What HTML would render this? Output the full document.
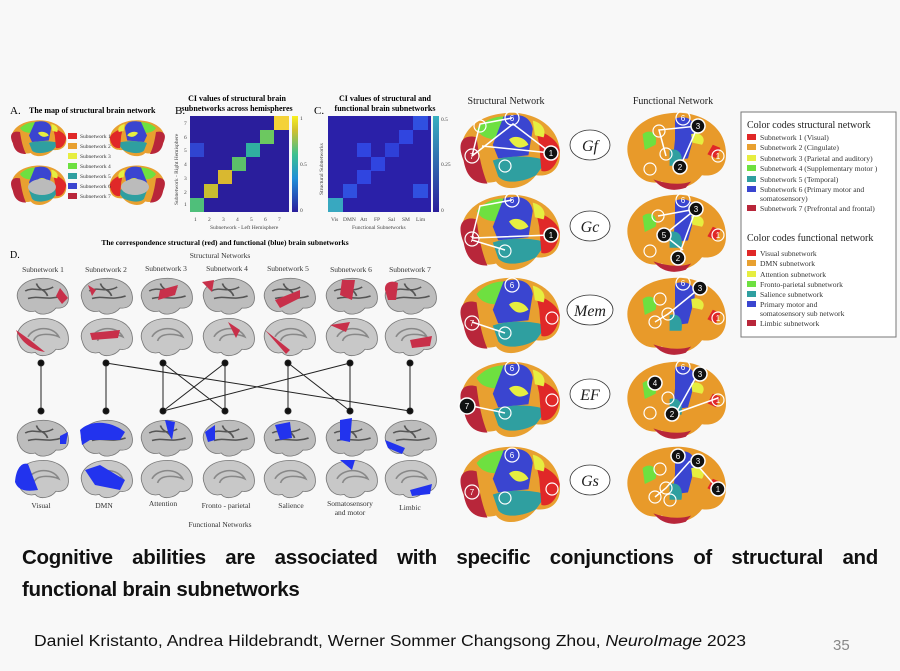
<!DOCTYPE html>
<html><head><meta charset="utf-8"><style>
body{margin:0;width:900px;height:671px;background:#f8f8f8;overflow:hidden;position:relative;font-family:"Liberation Serif",serif}
svg{position:absolute;left:0;top:0}
.t{position:absolute;left:22px;width:856px;font-family:"Liberation Sans",sans-serif;font-weight:bold;font-size:20.5px;color:#111;letter-spacing:-0.3px}
</style></head><body>
<svg width="900" height="671" viewBox="0 0 900 671">
<defs>
<path id="bl" d="M8,50 C0,30 15,8 45,5 C70,2 95,15 97,40 C99,58 88,66 75,64 C65,78 45,80 38,70 C25,74 12,66 8,50 Z"/>
<g id="gb"><use href="#bl" fill="#bdbdbd" stroke="#777" stroke-width="1.5"/><path d="M20,30 C35,20 50,35 70,22 M25,45 C45,38 60,50 85,40 M40,15 C45,30 55,25 60,40" stroke="#555" stroke-width="3" fill="none"/></g>
<g id="gm"><use href="#bl" fill="#c8c8c8" stroke="#777" stroke-width="1.5"/><path d="M25,40 C35,20 70,18 80,40 C70,35 40,30 35,48" stroke="#888" stroke-width="3" fill="none"/></g>
<g id="sb"><use href="#bl" fill="#e8a030"/>
<path d="M8,50 C0,30 10,25 20,28 C22,45 25,60 30,72 C15,72 10,62 8,50Z" fill="#b8263a"/>
<path d="M20,20 C30,8 45,6 55,10 L45,30 C35,30 25,30 20,20Z" fill="#6ee040"/>
<path d="M45,8 C60,4 70,8 72,20 L68,45 L40,48 L35,35 Z" fill="#3a45d0"/>
<path d="M35,50 C50,45 70,45 85,50 L75,64 C60,72 45,72 40,65Z" fill="#2f9fa0"/>
<path d="M75,20 C85,25 95,30 97,40 C95,55 88,62 80,60 L78,35Z" fill="#e02828"/>
<path d="M50,30 C55,25 65,28 68,35 C60,40 55,38 50,30Z" fill="#e6ee40"/>
<path d="M72,12 C80,14 85,20 82,28 L74,26Z" fill="#e6ee40"/>
</g>
<g id="fb"><use href="#bl" fill="#e89a2a"/>
<path d="M50,10 C62,6 70,12 68,25 L62,48 L48,50 L50,30 Z" fill="#3a45d0"/>
<path d="M45,40 C52,38 58,42 56,55 L45,55Z" fill="#2f9fa0"/>
<path d="M20,25 C25,20 35,22 32,35 L22,40Z" fill="#6ee040"/>
<path d="M30,68 C40,72 55,74 65,70 L60,76 C48,80 38,78 30,68Z" fill="#b8263a"/>
<path d="M85,35 L92,38 L88,48 L80,44Z" fill="#e02828"/>
<path d="M65,25 C72,22 80,28 75,35 L66,33Z" fill="#e6ee40"/>
</g>
</defs>

<!-- Panel A -->
<text x="10" y="114" font-size="11">A.</text>
<text x="29" y="113" font-size="8" font-weight="bold">The map of structural brain network</text>
<use href="#sb" transform="translate(8,118) scale(0.6,0.5)"/>
<use href="#sb" transform="translate(168,118) scale(-0.6,0.5)"/>
<use href="#sb" transform="translate(8,163) scale(0.6,0.55)"/>
<use href="#sb" transform="translate(168,163) scale(-0.6,0.55)"/>
<ellipse cx="42" cy="187" rx="14" ry="8" fill="#bbb"/><ellipse cx="135" cy="187" rx="14" ry="8" fill="#bbb"/>
<g font-size="5.5" fill="#333">
<rect x="68" y="133" width="9" height="6" fill="#e02828"/><text x="80" y="138">Subnetwork 1</text>
<rect x="68" y="143" width="9" height="6" fill="#e8a030"/><text x="80" y="148">Subnetwork 2</text>
<rect x="68" y="153" width="9" height="6" fill="#e6ee40"/><text x="80" y="158">Subnetwork 3</text>
<rect x="68" y="163" width="9" height="6" fill="#6ee040"/><text x="80" y="168">Subnetwork 4</text>
<rect x="68" y="173" width="9" height="6" fill="#2f9fa0"/><text x="80" y="178">Subnetwork 5</text>
<rect x="68" y="183" width="9" height="6" fill="#3a45d0"/><text x="80" y="188">Subnetwork 6</text>
<rect x="68" y="193" width="9" height="6" fill="#b8263a"/><text x="80" y="198">Subnetwork 7</text>
</g>

<!-- Panel B -->
<text x="175" y="114" font-size="11">B.</text>
<text x="237" y="101" font-size="8" font-weight="bold" text-anchor="middle">CI values of structural brain</text>
<text x="237" y="111" font-size="8" font-weight="bold" text-anchor="middle">subnetworks across hemispheres</text>
<rect x="190" y="116" width="99" height="96" fill="#2a1e9c"/>
<rect x="190" y="198" width="14" height="14" fill="#4fbf7a"/>
<rect x="204" y="184" width="14" height="14" fill="#c8bd30"/>
<rect x="218" y="170" width="14" height="14" fill="#d9b830"/>
<rect x="232" y="157" width="14" height="14" fill="#5cc06a"/>
<rect x="246" y="143" width="14" height="14" fill="#30b0a0"/>
<rect x="260" y="130" width="14" height="14" fill="#6cc860"/>
<rect x="274" y="116" width="15" height="14" fill="#f4d238"/>
<rect x="190" y="143" width="14" height="14" fill="#3045d0"/>
<defs><linearGradient id="pv" x1="0" y1="1" x2="0" y2="0"><stop offset="0" stop-color="#2a1e9c"/><stop offset="0.35" stop-color="#1f8fd8"/><stop offset="0.6" stop-color="#3cc090"/><stop offset="0.85" stop-color="#d0c030"/><stop offset="1" stop-color="#f8f020"/></linearGradient></defs>
<rect x="292" y="116" width="6" height="96" fill="url(#pv)"/>
<g font-size="5.5" fill="#444"><text x="300" y="120">1</text><text x="300" y="166">0.5</text><text x="300" y="212">0</text>
<text x="194" y="221">1</text><text x="208" y="221">2</text><text x="222" y="221">3</text><text x="236" y="221">4</text><text x="250" y="221">5</text><text x="264" y="221">6</text><text x="278" y="221">7</text>
<text x="210" y="229">Subnetwork - Left Hemisphere</text>
<text transform="translate(178,205) rotate(-90)">Subnetwork - Right Hemisphere</text>
<text x="184" y="206">1</text><text x="184" y="194">2</text><text x="184" y="180">3</text><text x="184" y="166">4</text><text x="184" y="152">5</text><text x="184" y="139">6</text><text x="184" y="125">7</text></g>

<!-- Panel C -->
<text x="314" y="114" font-size="11">C.</text>
<text x="385" y="101" font-size="8" font-weight="bold" text-anchor="middle">CI values of structural and</text>
<text x="385" y="111" font-size="8" font-weight="bold" text-anchor="middle">functional brain subnetworks</text>
<rect x="328" y="116" width="103" height="96" fill="#2a20a8"/>
<rect x="328" y="198" width="15" height="14" fill="#38a8c0"/>
<rect x="343" y="184" width="14" height="14" fill="#3050e0"/>
<rect x="357" y="170" width="14" height="14" fill="#3045e0"/>
<rect x="357" y="143" width="14" height="14" fill="#3045e0"/>
<rect x="371" y="157" width="14" height="14" fill="#3045e0"/>
<rect x="385" y="143" width="14" height="14" fill="#2f40d8"/>
<rect x="399" y="130" width="14" height="14" fill="#3045e0"/>
<rect x="413" y="116" width="15" height="14" fill="#3050e0"/>
<rect x="413" y="184" width="15" height="14" fill="#3050e0"/>
<defs><linearGradient id="pc" x1="0" y1="1" x2="0" y2="0"><stop offset="0" stop-color="#2a1e9c"/><stop offset="1" stop-color="#38b0c0"/></linearGradient></defs>
<rect x="433" y="116" width="6" height="96" fill="url(#pc)"/>
<g font-size="5.5" fill="#444"><text x="441" y="121">0.5</text><text x="441" y="166">0.25</text><text x="441" y="212">0</text>
<text x="331" y="221">Vis</text><text x="343" y="221">DMN</text><text x="360" y="221">Att</text><text x="374" y="221">FP</text><text x="388" y="221">Sal</text><text x="402" y="221">SM</text><text x="416" y="221">Lim</text>
<text x="352" y="229">Functional Subnetworks</text>
<text transform="translate(323,195) rotate(-90)">Structural Subnetworks</text></g>

<!-- Panel D -->
<text x="225" y="245" font-size="7.5" font-weight="bold" text-anchor="middle">The correspondence structural (red) and functional (blue) brain subnetworks</text>
<text x="10" y="258" font-size="10">D.</text>
<text x="220" y="258" font-size="7.5" text-anchor="middle" fill="#333">Structural Networks</text>
<g font-size="7.5" fill="#333" text-anchor="middle">
<text x="43" y="272">Subnetwork 1</text><text x="106" y="272">Subnetwork 2</text><text x="166" y="271">Subnetwork 3</text><text x="227" y="271">Subnetwork 4</text><text x="288" y="271">Subnetwork 5</text><text x="351" y="272">Subnetwork 6</text><text x="410" y="272">Subnetwork 7</text>
<text x="41" y="508">Visual</text><text x="104" y="508">DMN</text><text x="163" y="506">Attention</text><text x="226" y="508">Fronto - parietal</text><text x="291" y="508">Salience</text><text x="350" y="506">Somatosensory</text><text x="350" y="515">and motor</text><text x="410" y="510">Limbic</text>
<text x="220" y="527">Functional Networks</text></g>
<g id="cols">
<use href="#gb" transform="translate(14,276) scale(0.56,0.5)"/><use href="#gm" transform="translate(14,316) scale(0.56,0.52)"/>
<use href="#gb" transform="translate(78,276) scale(0.56,0.5)"/><use href="#gm" transform="translate(78,316) scale(0.56,0.52)"/>
<use href="#gb" transform="translate(138,276) scale(0.56,0.5)"/><use href="#gm" transform="translate(138,316) scale(0.56,0.52)"/>
<use href="#gb" transform="translate(200,276) scale(0.56,0.5)"/><use href="#gm" transform="translate(200,316) scale(0.56,0.52)"/>
<use href="#gb" transform="translate(261,276) scale(0.56,0.5)"/><use href="#gm" transform="translate(261,316) scale(0.56,0.52)"/>
<use href="#gb" transform="translate(323,276) scale(0.56,0.5)"/><use href="#gm" transform="translate(323,316) scale(0.56,0.52)"/>
<use href="#gb" transform="translate(382,276) scale(0.56,0.5)"/><use href="#gm" transform="translate(382,316) scale(0.56,0.52)"/>
</g>
<use href="#gb" transform="translate(14,418) scale(0.56,0.5)"/><use href="#gm" transform="translate(14,458) scale(0.56,0.52)"/>
<use href="#gb" transform="translate(78,418) scale(0.56,0.5)"/><use href="#gm" transform="translate(78,458) scale(0.56,0.52)"/>
<use href="#gb" transform="translate(138,418) scale(0.56,0.5)"/><use href="#gm" transform="translate(138,458) scale(0.56,0.52)"/>
<use href="#gb" transform="translate(200,418) scale(0.56,0.5)"/><use href="#gm" transform="translate(200,458) scale(0.56,0.52)"/>
<use href="#gb" transform="translate(261,418) scale(0.56,0.5)"/><use href="#gm" transform="translate(261,458) scale(0.56,0.52)"/>
<use href="#gb" transform="translate(323,418) scale(0.56,0.5)"/><use href="#gm" transform="translate(323,458) scale(0.56,0.52)"/>
<use href="#gb" transform="translate(382,418) scale(0.56,0.5)"/><use href="#gm" transform="translate(382,458) scale(0.56,0.52)"/>
<!-- red highlights -->
<g fill="#c8304a">
<path d="M60,288 L68,298 L62,304 L56,296Z"/><path d="M16,330 C20,340 30,350 45,352 L30,340Z"/>
<path d="M88,285 L96,290 L92,296Z"/><path d="M90,333 L120,330 L118,338 L92,340Z"/>
<path d="M160,290 L178,285 L175,295 L158,300Z"/>
<path d="M202,282 L214,280 L212,292Z"/><path d="M228,322 L240,330 L236,338Z"/>
<path d="M275,300 L300,290 L300,298 L280,308Z"/><path d="M265,330 L290,350 L286,354Z"/>
<path d="M342,280 L355,280 L352,300 L340,295Z"/><path d="M330,325 L350,322 L346,332Z"/>
<path d="M385,290 C384,282 392,280 398,283 L396,300 L388,300Z"/><path d="M410,340 L432,336 L430,346 L412,348Z"/>
</g>
<g fill="#2233ee">
<path d="M60,436 L68,432 L66,444 L60,444Z"/><path d="M15,482 C16,468 22,462 28,464 L38,490 C25,492 18,490 15,482Z"/>
<path d="M80,430 C90,420 110,420 125,432 L120,440 L90,440 L82,445Z"/><path d="M85,470 L100,465 L125,480 L120,490 L95,485Z"/>
<path d="M165,420 L175,422 L172,440 L168,432Z"/>
<path d="M205,432 L215,425 L215,440 L208,442Z"/>
<path d="M275,425 L290,422 L292,438 L280,440Z"/>
<path d="M340,420 L352,418 L350,442 L340,440Z"/><path d="M340,460 L355,460 L352,470Z"/>
<path d="M385,440 L405,448 L402,454 L388,448Z"/><path d="M410,490 L432,484 L430,494 L412,496Z"/>
</g>
<!-- connectors -->
<g stroke="#222" stroke-width="1" fill="#111">
<line x1="41" y1="363" x2="41" y2="411"/><line x1="106" y1="363" x2="106" y2="411"/><line x1="106" y1="363" x2="410" y2="411"/>
<line x1="163" y1="363" x2="163" y2="411"/><line x1="163" y1="363" x2="225" y2="411"/><line x1="225" y1="363" x2="163" y2="411"/>
<line x1="225" y1="363" x2="225" y2="411"/><line x1="288" y1="363" x2="288" y2="411"/><line x1="288" y1="363" x2="350" y2="411"/>
<line x1="350" y1="363" x2="163" y2="411"/><line x1="350" y1="363" x2="350" y2="411"/><line x1="410" y1="363" x2="410" y2="411"/>
<circle cx="41" cy="363" r="3"/><circle cx="106" cy="363" r="3"/><circle cx="163" cy="363" r="3"/><circle cx="225" cy="363" r="3"/><circle cx="288" cy="363" r="3"/><circle cx="350" cy="363" r="3"/><circle cx="410" cy="363" r="3"/>
<circle cx="41" cy="411" r="3"/><circle cx="106" cy="411" r="3"/><circle cx="163" cy="411" r="3"/><circle cx="225" cy="411" r="3"/><circle cx="288" cy="411" r="3"/><circle cx="350" cy="411" r="3"/><circle cx="410" cy="411" r="3"/>
</g>

<!-- Right panel -->
<text x="506" y="104" font-size="10" text-anchor="middle" fill="#222">Structural Network</text>
<text x="673" y="104" font-size="10" text-anchor="middle" fill="#222">Functional Network</text>
<g>
<use href="#sb" transform="translate(455,108) scale(1.08,1.05)"/><use href="#fb" transform="translate(621,108) scale(1.08,1.05)"/>
<use href="#sb" transform="translate(455,190) scale(1.08,1.05)"/><use href="#fb" transform="translate(621,190) scale(1.08,1.05)"/>
<use href="#sb" transform="translate(455,273) scale(1.08,1.05)"/><use href="#fb" transform="translate(621,273) scale(1.08,1.05)"/>
<use href="#sb" transform="translate(455,357) scale(1.08,1.05)"/><use href="#fb" transform="translate(621,357) scale(1.08,1.05)"/>
<use href="#sb" transform="translate(455,442) scale(1.08,1.05)"/><use href="#fb" transform="translate(621,442) scale(1.08,1.05)"/>
</g>
<g fill="#fff" stroke="#333" stroke-width="0.8" font-size="17" font-style="italic" text-anchor="middle">
<ellipse cx="590" cy="145" rx="20" ry="15"/><ellipse cx="590" cy="226" rx="20" ry="15"/><ellipse cx="590" cy="310" rx="23" ry="15"/><ellipse cx="590" cy="394" rx="20" ry="15"/><ellipse cx="590" cy="480" rx="20" ry="15"/>
</g>
<g font-size="16" font-style="italic" text-anchor="middle" fill="#222">
<text x="590" y="151">Gf</text><text x="590" y="232">Gc</text><text x="590" y="316">Mem</text><text x="590" y="400">EF</text><text x="590" y="486">Gs</text></g>
<!-- node circles structural -->
<g stroke="#fff" stroke-width="1.5" fill="none">
<path d="M472,156 L480,124 L512,118 M482,146 L551,153 M472,156 L513,124 L551,153"/>
<path d="M472,238 L480,206 L512,200 M472,238 L551,235 M472,240 L505,250"/>
<path d="M472,322 L505,333"/><path d="M655,322 L668,314 L700,288"/>
<path d="M472,406 L505,413"/><path d="M676,413 L700,370 M676,413 L718,398"/>
<path d="M696,209 L664,235 M696,209 L658,216 M664,235 L683,250 M696,209 L678,258"/>
<path d="M698,126 L659,130 L666,156 M698,126 L680,167"/>
<path d="M690,461 L666,488 L655,497 M698,466 L718,489"/>
</g>
<g font-size="10" text-anchor="middle" font-family="Liberation Sans,sans-serif">
<g fill="none" stroke="#fff" stroke-width="1.2">
<circle cx="472" cy="156" r="7"/><circle cx="512" cy="118" r="7"/><circle cx="505" cy="166" r="6"/><circle cx="480" cy="126" r="6"/>
<circle cx="472" cy="239" r="7"/><circle cx="512" cy="200" r="7"/><circle cx="505" cy="251" r="6"/>
<circle cx="472" cy="323" r="7"/><circle cx="512" cy="285" r="7"/><circle cx="505" cy="333" r="6"/><circle cx="552" cy="318" r="6"/>
<circle cx="512" cy="368" r="7"/><circle cx="505" cy="413" r="6"/><circle cx="552" cy="400" r="6"/>
<circle cx="472" cy="492" r="7"/><circle cx="512" cy="455" r="7"/><circle cx="505" cy="498" r="6"/><circle cx="552" cy="489" r="6"/>
<circle cx="650" cy="169" r="6"/><circle cx="683" cy="118" r="7"/><circle cx="718" cy="156" r="6"/><circle cx="666" cy="154" r="6"/><circle cx="659" cy="131" r="6"/>
<circle cx="683" cy="200" r="7"/><circle cx="658" cy="216" r="6"/><circle cx="718" cy="235" r="6"/><circle cx="650" cy="251" r="6"/>
<circle cx="683" cy="283" r="7"/><circle cx="655" cy="322" r="6"/><circle cx="718" cy="318" r="6"/><circle cx="660" cy="299" r="6"/><circle cx="668" cy="314" r="6"/>
<circle cx="683" cy="367" r="7"/><circle cx="718" cy="400" r="6"/><circle cx="650" cy="413" r="6"/><circle cx="668" cy="398" r="6"/>
<circle cx="655" cy="497" r="6"/><circle cx="670" cy="500" r="6"/><circle cx="660" cy="469" r="6"/><circle cx="666" cy="488" r="6"/>
</g>
<g fill="#111" stroke="#fff" stroke-width="1.5">
<circle cx="551" cy="153" r="7"/><circle cx="551" cy="235" r="7"/><circle cx="467" cy="406" r="8"/>
<circle cx="698" cy="126" r="7"/><circle cx="680" cy="167" r="7"/>
<circle cx="696" cy="209" r="7"/><circle cx="664" cy="235" r="7"/><circle cx="678" cy="258" r="7"/>
<circle cx="700" cy="288" r="7"/>
<circle cx="700" cy="374" r="7"/><circle cx="655" cy="383" r="7"/><circle cx="672" cy="414" r="7"/>
<circle cx="678" cy="456" r="7"/><circle cx="698" cy="461" r="7"/><circle cx="718" cy="489" r="7"/>
</g>
<g fill="#fff" font-size="8">
<text x="551" y="156">1</text><text x="551" y="238">1</text><text x="467" y="409">7</text>
<text x="698" y="129">3</text><text x="680" y="170">2</text><text x="696" y="212">3</text><text x="664" y="238">5</text><text x="678" y="261">2</text><text x="700" y="291">3</text>
<text x="700" y="377">3</text><text x="655" y="386">4</text><text x="672" y="417">2</text><text x="678" y="459">6</text><text x="698" y="464">3</text><text x="718" y="492">1</text>
<text x="472" y="159">7</text><text x="512" y="121">6</text><text x="472" y="242">7</text><text x="512" y="203">6</text><text x="472" y="326">7</text><text x="512" y="288">6</text><text x="512" y="371">6</text><text x="472" y="495">7</text><text x="512" y="458">6</text>
<text x="683" y="121">6</text><text x="683" y="203">6</text><text x="683" y="286">6</text><text x="683" y="370">6</text><text x="718" y="159">1</text><text x="718" y="238">1</text><text x="718" y="321">1</text><text x="718" y="403">1</text>
</g></g>

<!-- legend -->
<rect x="741" y="112" width="155" height="225" fill="#fff" stroke="#777" stroke-width="1"/>
<text x="747" y="128" font-size="10" fill="#222">Color codes structural network</text>
<g font-size="7.6" fill="#333">
<rect x="747" y="134" width="9" height="6" fill="#e02828"/><text x="760" y="140">Subnetwork 1 (Visual)</text>
<rect x="747" y="144" width="9" height="6" fill="#e8a030"/><text x="760" y="150">Subnetwork 2 (Cingulate)</text>
<rect x="747" y="155" width="9" height="6" fill="#e6ee40"/><text x="760" y="161">Subnetwork 3 (Parietal and auditory)</text>
<rect x="747" y="165" width="9" height="6" fill="#6ee040"/><text x="760" y="171">Subnetwork 4 (Supplementary motor )</text>
<rect x="747" y="176" width="9" height="6" fill="#2f9fa0"/><text x="760" y="182">Subnetwork 5 (Temporal)</text>
<rect x="747" y="186" width="9" height="6" fill="#3a45d0"/><text x="760" y="192">Subnetwork 6 (Primary motor and</text>
<text x="760" y="201">somatosensory)</text>
<rect x="747" y="205" width="9" height="6" fill="#b8263a"/><text x="760" y="211">Subnetwork 7 (Prefrontal and frontal)</text>
</g>
<text x="747" y="241" font-size="10" fill="#222">Color codes functional network</text>
<g font-size="7.6" fill="#333">
<rect x="747" y="250" width="9" height="6" fill="#e02828"/><text x="760" y="256">Visual subnetwork</text>
<rect x="747" y="260" width="9" height="6" fill="#e8a030"/><text x="760" y="266">DMN subnetwork</text>
<rect x="747" y="271" width="9" height="6" fill="#e6ee40"/><text x="760" y="277">Attention subnetwork</text>
<rect x="747" y="281" width="9" height="6" fill="#6ee040"/><text x="760" y="287">Fronto-parietal subnetwork</text>
<rect x="747" y="291" width="9" height="6" fill="#2f9fa0"/><text x="760" y="297">Salience subnetwork</text>
<rect x="747" y="301" width="9" height="6" fill="#3a45d0"/><text x="760" y="307">Primary motor and</text>
<text x="760" y="316">somatosensory sub network</text>
<rect x="747" y="320" width="9" height="6" fill="#b8263a"/><text x="760" y="326">Limbic subnetwork</text>
</g>

<text x="34" y="646" font-size="15.5" font-family="Liberation Sans,sans-serif" fill="#111" textLength="712" lengthAdjust="spacingAndGlyphs">Daniel Kristanto, Andrea Hildebrandt, Werner Sommer Changsong Zhou, <tspan font-style="italic">NeuroImage</tspan> 2023</text>
<text x="833" y="650" font-size="15" font-family="Liberation Sans,sans-serif" fill="#888">35</text>
</svg>
<div class="t" style="top:546px;text-align:justify;text-align-last:justify">Cognitive abilities are associated with specific conjunctions of structural and</div>
<div class="t" style="top:578px">functional brain subnetworks</div>
</body></html>
